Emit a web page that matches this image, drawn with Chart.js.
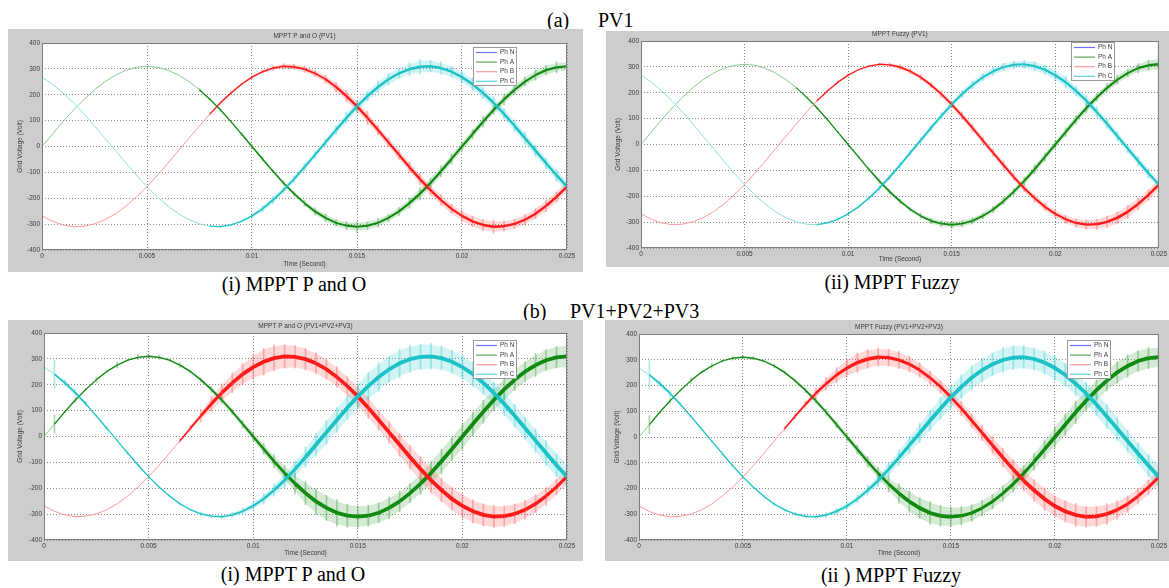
<!DOCTYPE html>
<html>
<head>
<meta charset="utf-8">
<script src="https://cdn.jsdelivr.net/npm/chart.js@4.4.1/dist/chart.umd.min.js"></script>
<style>
  body { margin: 0; background: #fff; width: 1169px; height: 588px; overflow: hidden; position: relative; }
  .panel { position: absolute; background: #cdcdcd; }
  .panel canvas { display: block; }
  .cap { position: absolute; font-family: "Liberation Serif", "Times New Roman", serif; font-size: 20px; line-height: 20px; white-space: pre; color: #000; }
  .mid { transform: translateX(-50%); }
</style>
</head>
<body>
<div class="cap" style="left:547px;top:10px">(a)</div>
<div class="cap" style="left:598px;top:10px">PV1</div>
<div class="cap mid" style="left:294px;top:274px">(i) MPPT P and O</div>
<div class="cap mid" style="left:892px;top:272px">(ii) MPPT Fuzzy</div>
<div class="cap" style="left:523px;top:301px">(b)</div>
<div class="cap" style="left:570px;top:301px">PV1+PV2+PV3</div>
<div class="cap mid" style="left:293px;top:564px">(i) MPPT P and O</div>
<div class="cap mid" style="left:891px;top:565px">(ii ) MPPT Fuzzy</div>

<script>
var timeS = [0, 0.0005, 0.001, 0.0015, 0.002, 0.0025, 0.003, 0.0035, 0.004, 0.0045,
  0.005, 0.0055, 0.006, 0.0065, 0.007, 0.0075, 0.008, 0.0085, 0.009, 0.0095,
  0.01, 0.0105, 0.011, 0.0115, 0.012, 0.0125, 0.013, 0.0135, 0.014, 0.0145,
  0.015, 0.0155, 0.016, 0.0165, 0.017, 0.0175, 0.018, 0.0185, 0.019, 0.0195,
  0.02, 0.0205, 0.021, 0.0215, 0.022, 0.0225, 0.023, 0.0235, 0.024, 0.0245, 0.025];

// underlying wave of each phase (Volt), same in all four plots
var phaseA = [0, 48, 96, 141, 182, 219, 251, 276, 295, 306, 310, 306, 295, 276, 251, 219, 182, 141, 96, 48,
  0, -48, -96, -141, -182, -219, -251, -276, -295, -306, -310, -306, -295, -276, -251, -219, -182, -141, -96, -48,
  0, 48, 96, 141, 182, 219, 251, 276, 295, 306, 310];
var phaseB = [-268, -289, -303, -310, -308, -299, -283, -260, -230, -195, -155, -111, -64, -16, 32, 80, 126, 169, 207, 241,
  268, 289, 303, 310, 308, 299, 283, 260, 230, 195, 155, 111, 64, 16, -32, -80, -126, -169, -207, -241,
  -268, -289, -303, -310, -308, -299, -283, -260, -230, -195, -155];
var phaseC = [268, 241, 207, 169, 126, 80, 32, -16, -64, -111, -155, -195, -230, -260, -283, -299, -308, -310, -303, -289,
  -268, -241, -207, -169, -126, -80, -32, 16, 64, 111, 155, 195, 230, 260, 283, 299, 308, 310, 303, 289,
  268, 241, 207, 169, 126, 80, 32, -16, -64, -111, -155];

// spread of the switching spikes around each wave (Volt)
var noiseP1A = [0,0,0,0,0,0,0,0,0,0, 0,0,0,0,0, 6,4,5,4,6, 7,8,6,9,8, 12,14,15,13,16, 22,15,17,14,16, 20,24,18,22,19,16, 18,20,16,22,19,17,20,18,22,16];
var noiseP1B = [0,0,0,0,0,0,0,0,0,0, 0,0,0,0,0,0, 4,5,6,4,5,7, 9,11,10,14,12, 16,18,22,20,26,18,17, 18,20,22,19,21,18,24,20,22,26,20,18,21,19,22,20,24];
var noiseP1C = [0,0,0,0,0,0,0,0,0,0, 0,0,0,0,0,0, 3,4,3,5, 10,12,14,11,13,15,12,14, 18,20,22,19,24,21,20,26,28,22, 24,20,22,25,21,23,20,22,24,21,20,23,22];

var noiseP2A = [0,0,0,0,0,0,0,0,0,0, 0,0,0,0,0, 3,4,5,4,3,5,4, 7,8,9,8,7,10, 11,12,14,12,13,11,12,14,13, 15,18,16,14,17,16,18,15,16,17,15,18,20,22];
var noiseP2B = [0,0,0,0,0,0,0,0,0,0, 0,0,0,0,0,0,0, 3,4,5,4,3,4,5, 8,10,9,11,10,12, 13,14,15,13,14,16,14,13,15,14,16,15,17, 18,20,22,24,26,22,20,24];
var noiseP2C = [0,0,0,0,0,0,0,0,0,0, 0,0,0,0,0,0,0, 3,4,5,4,5, 8,10,9,11,10,12,11,12, 13,14,15,14,16,15,14,16, 17,18,20,22,19,18,20,17,18,16,18,17,16];

var noiseP3A = [0,35, 4,10,3,10,4,12,3,10, 5,8,4,9,6,8, 12,14,11,15, 18,22,25,30, 40,45,50,48,52,45,42, 40,38,42,40,36,42, 44,48,45,50,46,44,42, 40,42,38,44,40,42,45];
var noiseP3B = [0,0,0,0,0,0,0,0,0,0, 0,0,0, 8,12, 25,30,34,38, 42,48,52,50,46,44,42,40, 38,40,36,42,40,38,42, 44,46,48,50,46,44,48,45,42,44,40, 38,36,34,35,30,32];
var noiseP3C = [0,55, 10,14,10, 4,8,3,6,4,8,3,6,5,4,8,5,6, 10,12,14, 20,24,28,32, 40,44,46,48,45, 50,52,55,50,56,52,48,50,46, 44,46,48,45,42,46,44, 42,45,48,44,46];

var noiseP4A = [0,35, 4,10,3,12,4,10,3,8, 5,6,4,7,5,6, 9,10,11,12, 15,18,20,24, 32,38,42,40,44,40,38,36, 32,30,28,30,32,30,34, 36,40,42,44,40,38, 40,42,44,40,42,38];
var noiseP4B = [0,0,0,0,0,0,0,0,0,0, 0,0,0,0, 8,10,14, 20,25,30, 34,38,36,35,32,34,30,28, 26,24,25,28,26,30, 34,36,38, 40,42,44,40,42,45,40,38,40,36, 32,30,28,34];
var noiseP4C = [0,55, 10,12,8, 4,6,3,7,4,6,3,5,6,4,7,5,6, 10,12,12,14, 20,24,26,30, 34,38,40,42,44, 45,48,46,44,48,46,44,42, 45,48,44,46,42,44,46,45, 42,40,44,50];

var xTickLabels = ['0', '0.005', '0.01', '0.015', '0.02', '0.025'];
var yTickLabels = ['-400', '-300', '-200', '-100', '0', '100', '200', '300', '400'];
var legendLabels = ['Ph N', 'Ph A', 'Ph B', 'Ph C'];
var panelTitles = ['MPPT P and O (PV1)', 'MPPT Fuzzy (PV1)', 'MPPT P and O (PV1+PV2+PV3)', 'MPPT Fuzzy (PV1+PV2+PV3)'];
var xTitle = 'Time (Second)';
var yTitle = 'Grid Voltage (Volt)';

// ---- layout and styles ----
var panelLayout = [
  { box: [8, 29, 575, 243],   area: [42, 43, 567, 250],   legend: [473, 47] },
  { box: [606, 31, 563, 236], area: [641, 41, 1160, 248], legend: [1071, 42] },
  { box: [8, 320, 575, 241],  area: [44, 333, 567, 540],  legend: [473, 340] },
  { box: [605, 320, 564, 241], area: [639, 334, 1159, 540], legend: [1067, 340] }
];
var panelNoise = [
  [noiseP1A, noiseP1B, noiseP1C],
  [noiseP2A, noiseP2B, noiseP2C],
  [noiseP3A, noiseP3B, noiseP3C],
  [noiseP4A, noiseP4B, noiseP4C]
];
var phaseWaves = [phaseA, phaseB, phaseC];
var phaseStyles = [
  { line: '#108a10', light: '#8cca8c', band: 'rgba(40,150,40,0.20)', spike: 'rgba(70,165,70,0.45)' },
  { line: '#ff1a1a', light: '#ff9898', band: 'rgba(255,60,60,0.20)', spike: 'rgba(255,100,100,0.45)' },
  { line: '#1cc2c6', light: '#8ee0e2', band: 'rgba(30,200,205,0.20)', spike: 'rgba(70,208,212,0.45)' }
];
var legendColors = ['#7070ff', '#5aa85a', '#ff9a9a', '#5ad6d8'];
var smallFont = '"Liberation Sans", Arial, sans-serif';

Chart.defaults.font.family = smallFont;
Chart.defaults.font.size = 6.5;
Chart.defaults.color = '#3a3a3a';

function coreWidth(n) {
  return n ? Math.min(3.8, 1 + n / 14) : 1;
}

function phaseSets(wave, noise, st, ord) {
  var band = noise.map(function(n, i) {
    var a = i > 0 ? noise[i - 1] : n, b = i < noise.length - 1 ? noise[i + 1] : n;
    return Math.min(n, a, b);
  });
  var upper = [], lower = [], spikes = [], core = [];
  timeS.forEach(function(t, i) {
    upper.push({ x: t, y: wave[i] + band[i] });
    lower.push({ x: t, y: wave[i] - band[i] });
    core.push({ x: t, y: wave[i] });
    if (noise[i] > 0) spikes.push({ x: t, y: [wave[i] - noise[i], wave[i] + noise[i]] });
  });
  return [
    { type: 'line', data: upper, fill: '+1', backgroundColor: st.band, borderColor: 'rgba(0,0,0,0)', borderWidth: 0, pointRadius: 0, order: 30 + ord },
    { type: 'line', data: lower, fill: false, borderColor: 'rgba(0,0,0,0)', borderWidth: 0, pointRadius: 0, order: 30 + ord },
    { type: 'bar', data: spikes, backgroundColor: st.spike, barThickness: 1, grouped: false, borderWidth: 0, order: 20 + ord },
    { type: 'line', data: core, borderColor: st.line, borderWidth: 1, pointRadius: 0, fill: false, order: 10 + ord,
      segment: {
        borderWidth: function(ctx) { return coreWidth(Math.min(noise[ctx.p0DataIndex], noise[ctx.p1DataIndex])); },
        borderColor: function(ctx) { return Math.min(noise[ctx.p0DataIndex], noise[ctx.p1DataIndex]) ? st.line : st.light; }
      } }
  ];
}

var matlabFrame = {
  id: 'matlabFrame',
  beforeDraw: function(chart) {
    var a = chart.chartArea, c = chart.ctx;
    c.save();
    c.fillStyle = '#ffffff';
    c.fillRect(a.left, a.top, a.right - a.left, a.bottom - a.top);
    c.restore();
  },
  afterDraw: function(chart, args, opts) {
    var a = chart.chartArea, c = chart.ctx;
    c.save();
    c.strokeStyle = '#7c7c7c';
    c.lineWidth = 1;
    c.strokeRect(a.left + 0.5, a.top + 0.5, a.right - a.left - 1, a.bottom - a.top - 1);
    c.fillStyle = '#3a3a3a';
    c.font = '6.5px ' + smallFont;
    c.textAlign = 'center';
    c.textBaseline = 'middle';
    c.fillText(opts.title, (a.left + a.right) / 2, a.top - 7);
    // legend box
    var lx = opts.legend[0], ly = opts.legend[1];
    c.fillStyle = '#ffffff';
    c.fillRect(lx, ly, 44, 39);
    c.strokeStyle = '#9a9a9a';
    c.strokeRect(lx + 0.5, ly + 0.5, 43, 38);
    c.textAlign = 'left';
    legendLabels.forEach(function(lbl, i) {
      var y = ly + 5.5 + i * 9.6;
      c.strokeStyle = legendColors[i];
      c.lineWidth = 1.2;
      c.beginPath();
      c.moveTo(lx + 3, y);
      c.lineTo(lx + 24, y);
      c.stroke();
      c.fillStyle = '#3a3a3a';
      c.fillText(lbl, lx + 27, y);
    });
    c.restore();
  }
};

panelLayout.forEach(function(p, pi) {
  var div = document.createElement('div');
  div.className = 'panel';
  div.style.left = p.box[0] + 'px';
  div.style.top = p.box[1] + 'px';
  div.style.width = p.box[2] + 'px';
  div.style.height = p.box[3] + 'px';
  var cv = document.createElement('canvas');
  cv.width = p.box[2];
  cv.height = p.box[3];
  div.appendChild(cv);
  document.body.appendChild(div);

  var datasets = [];
  // Ph C plotted last in the original, so it sits on top
  [2, 1, 0].forEach(function(k, ord) {
    datasets = datasets.concat(phaseSets(phaseWaves[k], panelNoise[pi][k], phaseStyles[k], ord));
  });

  var leftW = p.area[0] - p.box[0];
  var bottomH = p.box[1] + p.box[3] - p.area[3];

  new Chart(cv, {
    type: 'line',
    data: { datasets: datasets },
    options: {
      responsive: false,
      animation: false,
      events: [],
      layout: { padding: { left: 0, top: p.area[1] - p.box[1], right: p.box[0] + p.box[2] - p.area[2], bottom: 0 } },
      plugins: {
        legend: { display: false },
        tooltip: { enabled: false },
        matlabFrame: { title: panelTitles[pi], legend: [p.legend[0] - p.box[0], p.legend[1] - p.box[1]] }
      },
      scales: {
        x: {
          type: 'linear', min: 0, max: 0.025, offset: false,
          grid: { color: '#8a8a8a', drawTicks: false, offset: false },
          border: { display: false, dash: [1, 2] },
          ticks: { stepSize: 0.005, padding: 2, maxRotation: 0, autoSkip: false,
            callback: function(v, i) { return xTickLabels[i]; } },
          title: { display: true, text: xTitle, padding: { top: 0, bottom: 4 } },
          afterFit: function(s) { s.height = bottomH; }
        },
        y: {
          type: 'linear', min: -400, max: 400,
          grid: { color: '#8a8a8a', drawTicks: false },
          border: { display: false, dash: [1, 2] },
          ticks: { stepSize: 100, padding: 2, autoSkip: false,
            callback: function(v, i) { return yTickLabels[i]; } },
          title: { display: true, text: yTitle, padding: { top: 8, bottom: 0 } },
          afterFit: function(s) { s.width = leftW; }
        }
      }
    },
    plugins: [matlabFrame]
  });
});
</script>
</body>
</html>
